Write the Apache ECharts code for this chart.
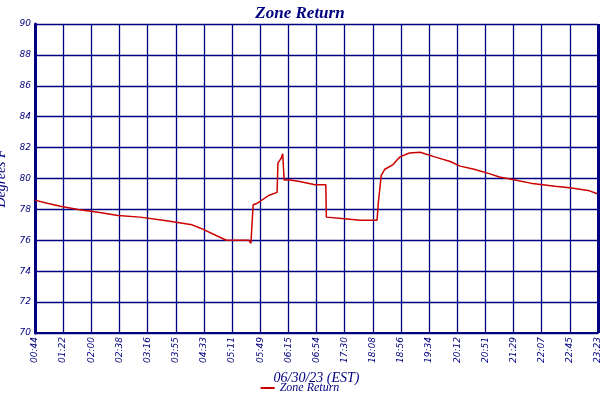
<!DOCTYPE html>
<html>
<head>
<meta charset="utf-8">
<script src="https://cdn.jsdelivr.net/npm/echarts@6/dist/echarts.min.js"></script>
<style>html,body{margin:0;padding:0;background:#fff}#chart{width:600px;height:400px}</style>
</head>
<body>
<div id="chart"></div>
<script>
const timeLabels = ["00:44", "01:22", "02:00", "02:38", "03:16", "03:55", "04:33", "05:11", "05:49", "06:15",
    "06:54", "17:30", "18:08", "18:56", "19:34", "20:12", "20:51", "21:29", "22:07", "22:45", "23:23"];

// positions in tick-interval units
const tracePos = [0, 0.43, 0.9, 1.53, 2.3, 2.95, 3.73, 4.55, 5.58, 5.86, 6.57, 6.8, 7.6, 7.67, 7.75,
    7.9, 8.3, 8.6, 8.63, 8.74, 8.8, 8.85, 9.06, 9.4, 9.95, 10.33, 10.35, 11, 11.55, 12.15, 12.2, 12.3,
    12.43, 12.72, 12.86, 12.97, 13.3, 13.68, 13.85, 14.2, 14.75, 15.1, 15.6, 16.16, 16.5, 17.05, 17.6,
    18.47, 19, 19.7, 20];
const traceTemp = [78.6, 78.4, 78.2, 78.0, 77.8, 77.6, 77.5, 77.3, 77.0, 76.8, 76.2, 76.0, 76.0, 75.8, 78.3,
    78.4, 78.9, 79.1, 81.0, 81.3, 81.6, 79.9, 79.9, 79.8, 79.6, 79.6, 77.5, 77.4, 77.3, 77.3, 78.5, 80.2,
    80.6, 80.9, 81.2, 81.4, 81.65, 81.7, 81.6, 81.4, 81.1, 80.8, 80.6, 80.3, 80.1, 79.9, 79.7,
    79.5, 79.4, 79.2, 79.0];

const navy = "#000080";
const chart = echarts.init(document.getElementById("chart"), null, { renderer: "canvas" });

chart.setOption({
    animation: false,
    title: {
        text: "Zone Return",
        left: "center",
        top: 0,
        textStyle: { fontFamily: "Liberation Serif", fontStyle: "italic", fontWeight: "bold", fontSize: 17, color: navy }
    },
    legend: {
        bottom: 1,
        left: "center",
        itemWidth: 14,
        itemHeight: 2,
        icon: "rect",
        textStyle: { fontFamily: "Liberation Serif", fontStyle: "italic", fontSize: 12, color: navy }
    },
    grid: { left: 35, right: 2, top: 24, bottom: 67, containLabel: false, outerBoundsMode: "none" },
    xAxis: {
        type: "value",
        min: 0,
        max: 20,
        interval: 1,
        name: "06/30/23 (EST)",
        nameLocation: "middle",
        nameGap: 36,
        nameTextStyle: { fontFamily: "Liberation Serif", fontStyle: "italic", fontSize: 14, color: navy },
        axisLine: { show: true, lineStyle: { color: navy, width: 2 } },
        axisTick: { show: false },
        axisLabel: {
            rotate: 90,
            fontSize: 9,
            fontStyle: "italic",
            fontFamily: "DejaVu Sans",
            color: navy,
            margin: 4,
            formatter: v => timeLabels[Math.round(v)]
        },
        splitLine: { show: true, lineStyle: { color: navy, width: 1.3 } }
    },
    yAxis: {
        type: "value",
        min: 70,
        max: 90,
        interval: 2,
        name: "Degrees F",
        nameLocation: "middle",
        nameGap: 22,
        nameTextStyle: { fontFamily: "Liberation Serif", fontStyle: "italic", fontSize: 14, color: navy },
        axisLine: { show: true, lineStyle: { color: navy, width: 3 } },
        axisTick: { show: false },
        axisLabel: { fontSize: 9, fontStyle: "italic", fontFamily: "DejaVu Sans", color: navy, margin: 4 },
        splitLine: { show: true, lineStyle: { color: navy, width: 1.3 } }
    },
    series: [{
        name: "Zone Return",
        type: "line",
        showSymbol: false,
        data: tracePos.map((p, i) => [p, traceTemp[i]]),
        lineStyle: { color: "#cc0000", width: 1.5 },
        itemStyle: { color: "#cc0000" },
        markLine: {
            silent: true,
            symbol: "none",
            label: { show: false },
            lineStyle: { color: navy, width: 3, type: "solid" },
            data: [{ xAxis: 20 }]
        }
    }]
});
</script>
</body>
</html>
